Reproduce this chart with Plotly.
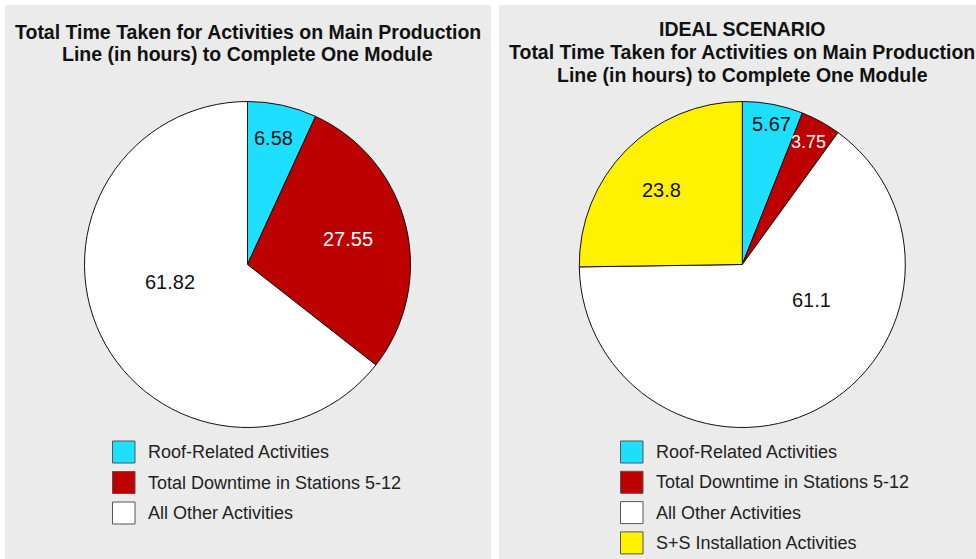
import plotly.graph_objects as go

# ---- data ----
labels_left = ["Roof-Related Activities", "Total Downtime in Stations 5-12", "All Other Activities"]
values_left = [6.58, 27.55, 61.82]

labels_right = ["Roof-Related Activities", "Total Downtime in Stations 5-12", "All Other Activities",
                "S+S Installation Activities"]
values_right = [5.67, 3.75, 61.1, 23.8]

title_left_lines = ["Total Time Taken for Activities on Main Production",
                    "Line (in hours) to Complete One Module"]
title_right_lines = ["IDEAL SCENARIO",
                     "Total Time Taken for Activities on Main Production",
                     "Line (in hours) to Complete One Module"]

# ---- style ----
color_map = {
    "Roof-Related Activities": "#1FDFFF",
    "Total Downtime in Stations 5-12": "#BD0000",
    "All Other Activities": "#FFFFFF",
    "S+S Installation Activities": "#FFF200",
}
text_color_map = {
    "Roof-Related Activities": "#111111",
    "Total Downtime in Stations 5-12": "#FFFFFF",
    "All Other Activities": "#111111",
    "S+S Installation Activities": "#111111",
}
# value-label placement inside each slice, as fractions of the radius from the centre (x right, y down)
label_offsets_left = [(0.158, -0.774), (0.618, -0.156), (-0.475, 0.110)]
label_offsets_right = [(0.181, -0.860), (0.405, -0.750), (0.426, 0.218), (-0.494, -0.457)]
label_sizes_right = [20, 18, 20, 20]

W, H = 976, 559
FONT = "Liberation Sans, Arial, sans-serif"
R = 163


def px(x):
    return x / W


def py(y):
    return 1 - y / H


fig = go.Figure()
shapes = [
    dict(type="rect", xref="paper", yref="paper", x0=px(5), x1=px(491), y0=0, y1=py(5),
         fillcolor="#EBEBEB", line=dict(width=0), layer="below"),
    dict(type="rect", xref="paper", yref="paper", x0=px(499), x1=1.0, y0=0, y1=py(5),
         fillcolor="#EBEBEB", line=dict(width=0), layer="below"),
]
annotations = []


def add_pie(labels, values, cx, cy, offsets, sizes=None):
    fig.add_trace(go.Pie(
        labels=labels, values=values, sort=False, direction="clockwise", rotation=0,
        marker=dict(colors=[color_map[l] for l in labels], line=dict(color="#111111", width=1)),
        textinfo="none",
        domain=dict(x=[px(cx - R), px(cx + R)], y=[py(cy + R), py(cy - R)]),
        showlegend=False, hoverinfo="label+value",
    ))
    for i, (lab, val) in enumerate(zip(labels, values)):
        fx, fy = offsets[i]
        size = sizes[i] if sizes else 20
        annotations.append(dict(
            text=f"{val:g}", x=px(cx + fx * R), y=py(cy + fy * R), xref="paper", yref="paper",
            showarrow=False, xanchor="center", yanchor="middle",
            font=dict(size=size, family=FONT, color=text_color_map[lab])))


add_pie(labels_left, values_left, 247.5, 264.5, label_offsets_left)
add_pie(labels_right, values_right, 742.3, 264.5, label_offsets_right, label_sizes_right)


def add_title(lines, cx, y_first, step):
    for i, line in enumerate(lines):
        annotations.append(dict(
            text="<b>" + line + "</b>", x=px(cx), y=py(y_first + i * step), xref="paper", yref="paper",
            showarrow=False, xanchor="center", yanchor="middle",
            font=dict(size=19.5, family=FONT, color="#111111")))


add_title(title_left_lines, 247.5, 32, 22.3)
add_title(title_right_lines, 742.3, 29, 23.0)


def add_legend(labels, x_sq, y_first, step):
    for i, lab in enumerate(labels):
        yc = y_first + i * step
        shapes.append(dict(type="rect", xref="paper", yref="paper",
                           x0=px(x_sq), x1=px(x_sq + 22.5), y0=py(yc + 11), y1=py(yc - 11),
                           fillcolor=color_map[lab], line=dict(color="#555555", width=1)))
        annotations.append(dict(text=lab, x=px(x_sq + 33.5), y=py(yc), xref="paper", yref="paper",
                                showarrow=False, xanchor="left", yanchor="middle",
                                font=dict(size=18, family=FONT, color="#222222")))


add_legend(labels_left, 112.5, 452, 30.5)
add_legend(labels_right, 620.5, 452, 30.3)

fig.update_layout(
    width=W, height=H, margin=dict(l=0, r=0, t=0, b=0),
    paper_bgcolor="#FFFFFF", plot_bgcolor="#FFFFFF",
    shapes=shapes, annotations=annotations, showlegend=False,
)

fig.write_html("out.html")
